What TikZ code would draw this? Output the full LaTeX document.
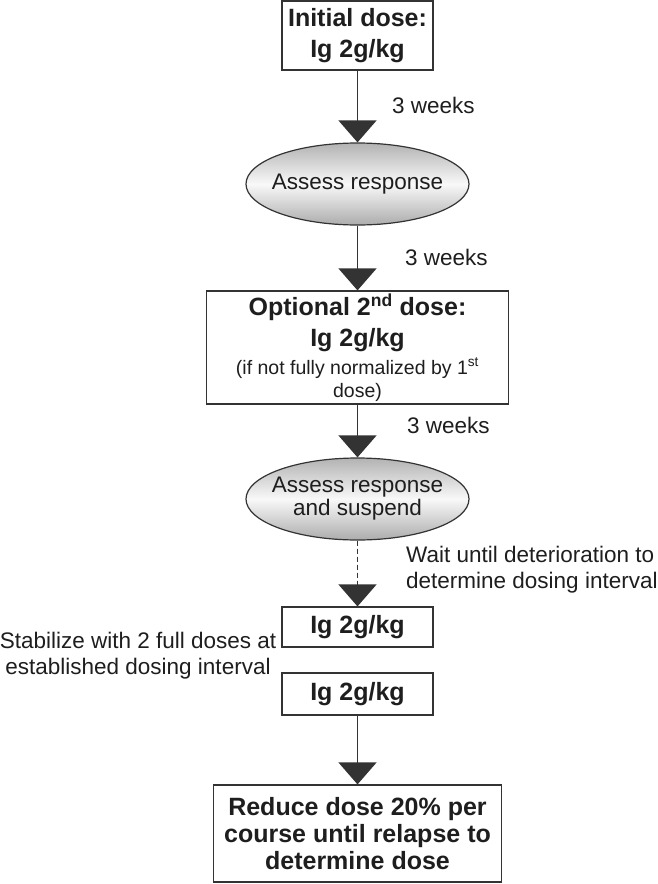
\documentclass[tikz,border=0pt]{standalone}
\usepackage{fontspec}
\setmainfont{Liberation Sans}
\usepackage{tikz}
\usetikzlibrary{arrows.meta,shapes.geometric}

\definecolor{linegray}{HTML}{333333}
\definecolor{textgray}{HTML}{1E1E1E}
\newcommand{\boldtext}{\fontsize{25}{31}\selectfont\bfseries}
\newcommand{\plaintext}{\fontsize{22.5}{26}\selectfont}
\newcommand{\smalltext}{\fontsize{19.5}{21}\selectfont}

\begin{document}
\begin{tikzpicture}[x=1pt,y=-1pt,
    dosebox/.style={rectangle,draw=linegray,line width=1.2pt,fill=white,align=center,
      font=\boldtext,text=textgray,inner sep=0pt},
    assessbox/.style={ellipse,draw=linegray,line width=1.2pt,top color=gray!60,
      bottom color=gray!65,middle color=gray!5,align=center,font=\plaintext,
      text=textgray,inner xsep=-30pt,inner ysep=0pt,minimum width=223pt,minimum height=82pt},
    flow/.style={draw=linegray,line width=1.3pt,-{Triangle[width=38pt,length=22pt]}},
    note/.style={font=\plaintext,text=textgray,inner sep=0pt}]
    \useasboundingbox (0,0) rectangle (657,884);

    \node[dosebox,minimum width=151pt,minimum height=69pt] (dose1) at (357.5,35.5)
      {Initial dose:\\Ig 2g/kg};
    \node[assessbox] (assess1) at (357.5,184) {Assess response};
    \node[dosebox,minimum width=302pt,minimum height=113pt] (dose2) at (357.5,347.5)
      {Optional 2\textsuperscript{nd} dose:\\Ig 2g/kg\\[-3pt]
       {\smalltext\mdseries (if not fully normalized by 1\textsuperscript{st}}\\[-8pt]
       {\smalltext\mdseries dose)}};
    \node[assessbox] (assess2) at (357.5,499) {Assess response\\[-3pt]and suspend};
    \node[dosebox,minimum width=151pt,minimum height=40pt] (ig1) at (357.5,627) {Ig 2g/kg};
    \node[dosebox,minimum width=151pt,minimum height=42pt] (ig2) at (357.5,694) {Ig 2g/kg};
    \node[dosebox,minimum width=288pt,minimum height=97pt] (reduce) at (357.5,833.5)
      {Reduce dose 20\% per\\[-4pt]course until relapse to\\[-4pt]determine dose};

    \foreach \x/\y/\n in {392/105/1, 405/257/2, 407/425/3}
      \node[note,anchor=west] (weeks\n) at (\x,\y) {3 weeks};
    \node[note,anchor=west,align=left] (wait) at (406,570)
      {Wait until deterioration to\\determine dosing interval};
    \node[note,align=center] (stabilize) at (138,656)
      {Stabilize with 2 full doses at\\established dosing interval};

    \draw[flow] (dose1) -- (assess1);
    \draw[flow] (assess1) -- (dose2);
    \draw[flow] (dose2) -- (assess2);
    \draw[flow,line width=1.5pt,dash pattern=on 5pt off 3pt] (assess2) -- (ig1);
    \draw[flow] (ig2) -- (reduce);
  \end{tikzpicture}
\end{document}
